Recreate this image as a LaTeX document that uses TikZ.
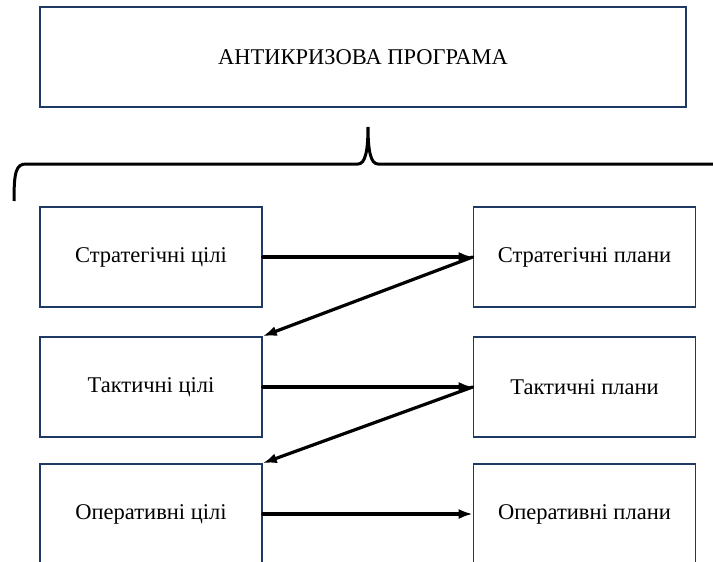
\documentclass[tikz,border=0pt]{standalone}
\usepackage{fontspec}
\setmainfont{Liberation Serif}
\usetikzlibrary{arrows.meta}
\definecolor{ramka}{RGB}{31,56,100}

\begin{document}
\begin{tikzpicture}[x=1pt, y=-1pt, >={Latex[length=14pt,width=10pt]},
	every node/.style={font=\fontsize{22.5}{26}\selectfont},
	blok/.style={draw=ramka, line width=1.6pt, minimum width=222pt, minimum height=100pt, inner sep=0pt},
	strilka/.style={->, line width=3.2pt, line cap=round}]
	\useasboundingbox (0,0) rectangle (713,562);
	\node[blok, minimum width=646pt] (prog) at (363,57) {АНТИКРИЗОВА ПРОГРАМА};
	% brace under the programme
	\draw[line width=3pt] (14,201) .. controls (14,172) and (16,164) .. (26,164) -- (358,164)
		.. controls (365,164) and (368,152) .. (368,127)
		.. controls (368,152) and (371,164) .. (378,164) -- (713,164);
	\node[blok] (sc) at (151,257) {Стратегічні цілі};
	\node[blok] (sp) at (584.5,257) {Стратегічні плани};
	\node[blok] (tc) at (151,387) {Тактичні цілі};
	\node[blok] (tp) at (584.5,387) {Тактичні плани};
	\node[blok] (oc) at (151,514) {Оперативні цілі};
	\node[blok] (op) at (584.5,514) {Оперативні плани};
	\draw[strilka] (sc.east) -- (sp.west);
	\draw[strilka] (sp.west) -- (tc.north east);
	\draw[strilka] (tc.east) -- (tp.west);
	\draw[strilka] (tp.west) -- (oc.north east);
	\draw[strilka] (oc.east) -- (op.west);
\end{tikzpicture}
\end{document}
